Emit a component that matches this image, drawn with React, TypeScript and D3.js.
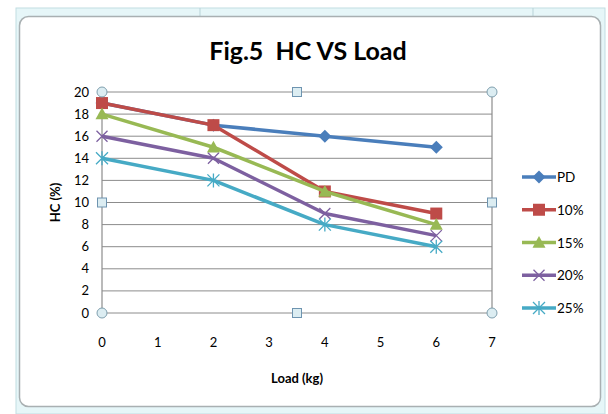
import React from "react";
import * as d3 from "d3";

const loads = [0, 2, 4, 6];
const seriesNames = ["PD", "10%", "15%", "20%", "25%"];
const pdValues = [19, 17, 16, 15];
const p10Values = [19, 17, 11, 9];
const p15Values = [18, 15, 11, 8];
const p20Values = [16, 14, 9, 7];
const p25Values = [14, 12, 8, 6];
const xTicks = [0, 1, 2, 3, 4, 5, 6, 7];
const yTicks = [0, 2, 4, 6, 8, 10, 12, 14, 16, 18, 20];
const colors = ["#4a7ebb", "#be4b48", "#98b954", "#7d60a0", "#46aac5"];
const markers = ["diamond", "square", "triangle", "x", "star"];

const allValues = [pdValues, p10Values, p15Values, p20Values, p25Values];

const W = 608, H = 414;
const font = "Lato, 'Open Sans', sans-serif";

function Marker({ type, x, y, color }: { type: string; x: number; y: number; color: string }) {
  if (type === "diamond") {
    const s = 6.5;
    return <path d={`M${x},${y - s}L${x + s},${y}L${x},${y + s}L${x - s},${y}Z`} fill={color} />;
  }
  if (type === "square") {
    const s = 6;
    return <rect x={x - s} y={y - s} width={2 * s} height={2 * s} fill={color} />;
  }
  if (type === "triangle") {
    const s = 6.5;
    return <path d={`M${x},${y - s}L${x + s},${y + s * 0.8}L${x - s},${y + s * 0.8}Z`} fill={color} />;
  }
  if (type === "x") {
    const s = 5.5;
    return (
      <path d={`M${x - s},${y - s}L${x + s},${y + s}M${x + s},${y - s}L${x - s},${y + s}`} stroke={color} strokeWidth={1.3} fill="none" />
    );
  }
  const s = 6;
  return (
    <path
      d={`M${x - s},${y - s}L${x + s},${y + s}M${x + s},${y - s}L${x - s},${y + s}M${x},${y - s - 1}L${x},${y + s + 1}`}
      stroke={color}
      strokeWidth={1.3}
      fill="none"
    />
  );
}

export default function App() {
  const x = d3.scaleLinear().domain([0, 7]).range([102, 492]);
  const y = d3.scaleLinear().domain([0, 20]).range([313, 92]);
  const line = d3
    .line<number>()
    .x((_, i) => x(loads[i]))
    .y((v) => y(v));

  const legendY = d3.scalePoint<string>().domain(seriesNames).range([177, 308]);

  const handleCircle = (cx: number, cy: number, k: string) => (
    <circle key={k} cx={cx} cy={cy} r={5} fill="#dcedf2" stroke="#7f9fae" strokeWidth={1} />
  );
  const handleSquare = (cx: number, cy: number, k: string) => (
    <rect key={k} x={cx - 4.5} y={cy - 4.5} width={9} height={9} fill="#dcedf2" stroke="#6e94b0" strokeWidth={1} />
  );

  return (
    <svg
      width={W}
      height={H}
      style={{ position: "absolute", left: 0, top: 0, display: "block" }}
    >
      <rect x={0} y={0} width={W} height={H} fill="#ffffff" />
      {/* outer frame */}
      <rect x={16} y={8} width={589} height={406} fill="#e6f6f8" stroke="#c2dde2" />
      <line x1={200} y1={8} x2={200} y2={16} stroke="#b9d3d8" />
      <line x1={533} y1={8} x2={533} y2={16} stroke="#b9d3d8" />
      <rect x={19.5} y={16.5} width={581} height={390} rx={9} fill="#ffffff" stroke="#a9b0b2" strokeWidth={1.5} />
      {/* title */}
      <text x={308} y={60} textAnchor="middle" fontFamily={font} fontWeight="bold" fontSize={25} fill="#000">
        Fig.5{"\u00a0\u00a0"}HC VS Load
      </text>
      {/* gridlines */}
      {yTicks.map((t) => (
        <line key={t} x1={x(0)} x2={x(7)} y1={y(t)} y2={y(t)} stroke="#8c8c8c" strokeWidth={1} />
      ))}
      <line x1={x(0)} x2={x(0)} y1={y(0)} y2={y(20)} stroke="#8c8c8c" strokeWidth={1.2} />
      <line x1={x(7)} x2={x(7)} y1={y(0)} y2={y(20)} stroke="#8c8c8c" strokeWidth={1.2} />
      {/* y tick labels */}
      {yTicks.map((t) => (
        <text key={t} x={89} y={y(t) + 4.5} textAnchor="end" fontFamily={font} fontSize={13} fill="#000">
          {t}
        </text>
      ))}
      {xTicks.map((t) => (
        <text key={t} x={x(t)} y={347} textAnchor="middle" fontFamily={font} fontSize={13} fill="#000">
          {t}
        </text>
      ))}
      <text x={297} y={383} textAnchor="middle" fontFamily={font} fontWeight="bold" fontSize={13} fill="#000">
        Load (kg)
      </text>
      <text
        transform={`translate(60,${y(10)}) rotate(-90)`}
        textAnchor="middle"
        fontFamily={font}
        fontWeight="bold"
        fontSize={13}
        fill="#000"
      >
        HC (%)
      </text>
      {/* series */}
      {allValues.map((vals, si) => (
        <g key={si}>
          <path d={line(vals) || ""} fill="none" stroke={colors[si]} strokeWidth={3.5} strokeLinejoin="round" />
          {vals.map((v, i) => (
            <Marker key={i} type={markers[si]} x={x(loads[i])} y={y(v)} color={colors[si]} />
          ))}
        </g>
      ))}
      {/* handles */}
      {handleCircle(x(0), y(20), "c1")}
      {handleCircle(x(7), y(20), "c2")}
      {handleCircle(x(0), y(0), "c3")}
      {handleCircle(x(7), y(0), "c4")}
      {handleSquare(x(3.5), y(20), "s1")}
      {handleSquare(x(3.5), y(0), "s2")}
      {handleSquare(x(0), y(10), "s3")}
      {handleSquare(x(7), y(10), "s4")}
      {/* legend */}
      {seriesNames.map((n, i) => {
        const ly = legendY(n) as number;
        return (
          <g key={n}>
            <line x1={522} x2={556} y1={ly} y2={ly} stroke={colors[i]} strokeWidth={3.5} />
            <Marker type={markers[i]} x={539} y={ly} color={colors[i]} />
            <text x={557} y={ly + 5} fontFamily={font} fontSize={13.5} fill="#000">
              {n}
            </text>
          </g>
        );
      })}
    </svg>
  );
}
